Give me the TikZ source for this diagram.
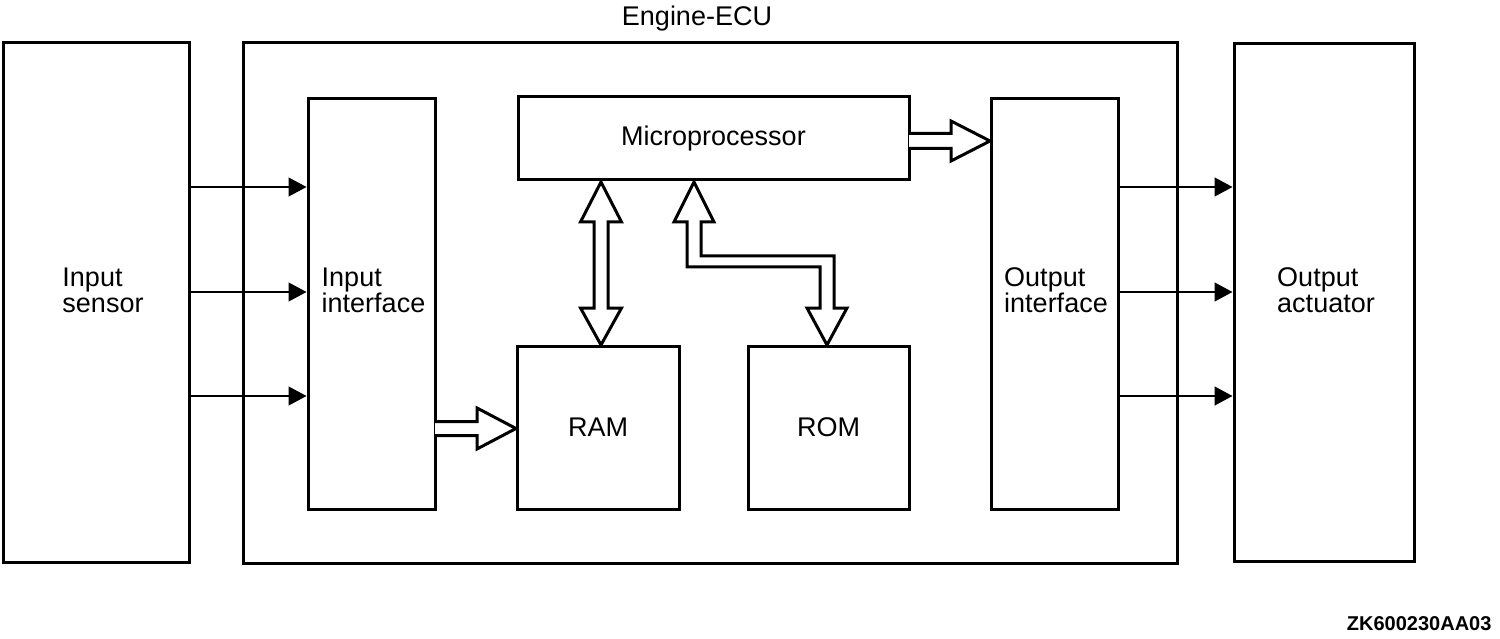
\documentclass[tikz,border=0pt]{standalone}
\usepackage{fontspec}
\setmainfont{Liberation Sans}
\usetikzlibrary{arrows.meta}

\begin{document}
\begin{tikzpicture}[x=1pt,y=-1pt,
	font=\fontsize{27}{26}\selectfont,
	box/.style={draw,rectangle,line width=3pt,inner sep=0pt},
	sig/.style={-{Triangle[length=18pt,width=19pt]},line width=1.3pt},
	bus/.style={draw,fill=white,line width=3pt,line join=miter},]
	\useasboundingbox (0,0) rectangle (1500,639);
	\node [box,minimum width=186pt,minimum height=519pt,
		label={[align=left,xshift=7pt,yshift=12.5pt]center:Input\\sensor}] (sensor) at (96,302.5) {};
	\node [box,minimum width=934pt,minimum height=520pt] (ecu) at (710,303) {};
	\node [anchor=base] (ecutitle) at (697,26) {Engine-ECU};
	\node [box,minimum width=127pt,minimum height=410pt,
		label={[align=left,xshift=2pt,yshift=14pt]center:Input\\interface}] (inif) at (371.5,304) {};
	\node [box,minimum width=391pt,minimum height=83pt] (micro) at (713.5,138.5) {Microprocessor};
	\node [box,minimum width=162pt,minimum height=163pt] (ram) at (598,427.5) {\raisebox{-3pt}{RAM}};
	\node [box,minimum width=161pt,minimum height=163pt] (rom) at (828.5,427.5) {\raisebox{-3pt}{ROM}};
	\node [box,minimum width=127pt,minimum height=410pt,
		label={[align=left,xshift=1.5pt,yshift=14pt]center:Output\\interface}] (outif) at (1054.5,304) {};
	\node [box,minimum width=180pt,minimum height=517pt,
		label={[align=left,xshift=2pt,yshift=12.5pt]center:Output\\actuator}] (act) at (1324,302.5) {};
	\node [anchor=base east,font=\bfseries\fontsize{20}{20}\selectfont] (code) at (1495,630.5) {ZK600230AA03};

	\foreach \y in {187,292,396} {
		\draw [sig] (sensor.east |- 0,\y) -- (inif.west |- 0,\y);
		\draw [sig] (outif.east |- 0,\y) -- (act.west |- 0,\y);
	}

	\draw [bus] (435,421.5) -- (477,421.5) -- (477,408) -- (516,428.5)
		-- (477,449) -- (477,435.5) -- (435,435.5);
	\draw [bus] (909,133.5) -- (951,133.5) -- (951,121) -- (990,141)
		-- (951,161) -- (951,148.5) -- (909,148.5);
	\draw [bus] (601,182) -- (621.5,222) -- (608,222) -- (608,308) -- (621.5,308)
		-- (601,345) -- (580.5,308) -- (594,308) -- (594,222) -- (580.5,222) -- cycle;
	\draw [bus] (694,182) -- (714,222) -- (701,222) -- (701,256) -- (834,256)
		-- (834,308) -- (847,308) -- (827,345) -- (807,308) -- (820,308)
		-- (820,267) -- (687,267) -- (687,222) -- (674,222) -- cycle;
\end{tikzpicture}
\end{document}
